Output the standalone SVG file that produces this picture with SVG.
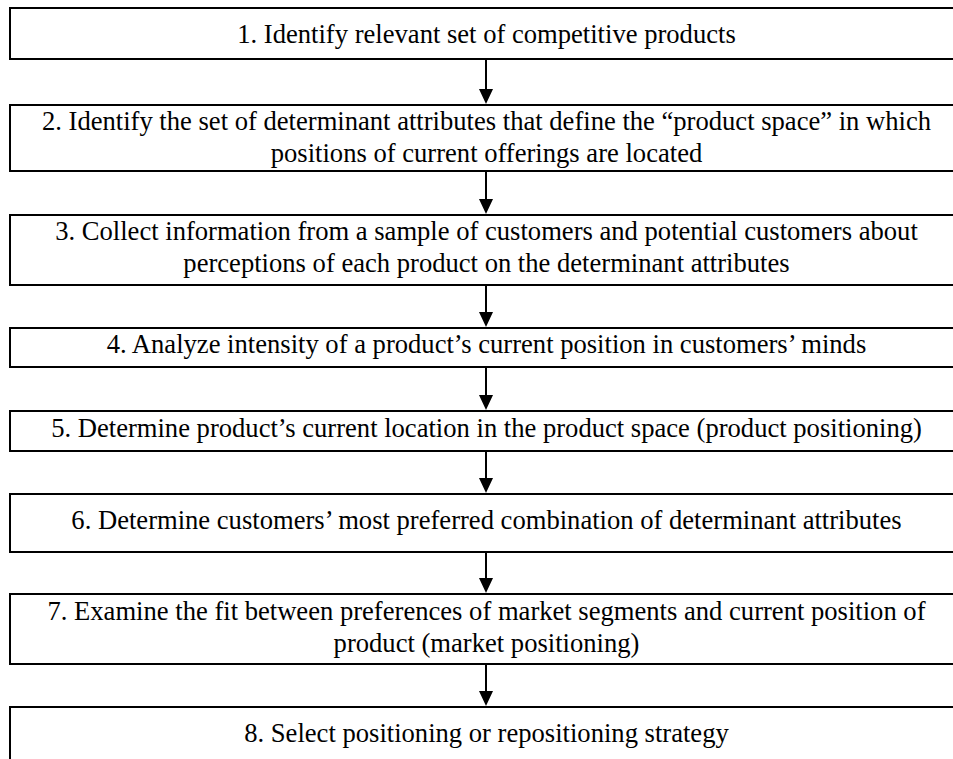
<svg xmlns="http://www.w3.org/2000/svg" xmlns:xlink="http://www.w3.org/1999/xlink" width="953" height="759" viewBox="0 0 953 759">
<style>
.box{fill:#fff;stroke:#000;stroke-width:2}
.t{font-family:"Liberation Serif","Times New Roman",serif;font-size:26.6px;fill:#000;text-anchor:middle}
.c{stroke:#000;stroke-width:2;fill:none}
.h{fill:#000}
</style>
<defs>
<path id="ah" class="h" d="M-7,-15 L7,-15 L0,0 Z"/>
</defs>
<rect width="953" height="759" fill="#fff"/>
<g id="connectors">
<line class="c" x1="486" y1="59" x2="486" y2="92"/><use xlink:href="#ah" x="486" y="104"/>
<line class="c" x1="486" y1="171" x2="486" y2="202"/><use xlink:href="#ah" x="486" y="214"/>
<line class="c" x1="486" y1="285" x2="486" y2="315"/><use xlink:href="#ah" x="486" y="327"/>
<line class="c" x1="486" y1="367" x2="486" y2="398"/><use xlink:href="#ah" x="486" y="410"/>
<line class="c" x1="486" y1="451" x2="486" y2="481"/><use xlink:href="#ah" x="486" y="493"/>
<line class="c" x1="486" y1="552" x2="486" y2="581"/><use xlink:href="#ah" x="486" y="593"/>
<line class="c" x1="486" y1="664" x2="486" y2="694"/><use xlink:href="#ah" x="486" y="706"/>
</g>
<g id="step1"><rect class="box" x="10" y="8" width="955" height="51"/><text class="t" x="486.5" y="43">1. Identify relevant set of competitive products</text></g>
<g id="step2"><rect class="box" x="10" y="105" width="955" height="66"/><text class="t" x="486.5" y="130">2. Identify the set of determinant attributes that define the “product space” in which</text><text class="t" x="486.5" y="162">positions of current offerings are located</text></g>
<g id="step3"><rect class="box" x="10" y="215" width="955" height="70"/><text class="t" x="486.5" y="240">3. Collect information from a sample of customers and potential customers about</text><text class="t" x="486.5" y="272">perceptions of each product on the determinant attributes</text></g>
<g id="step4"><rect class="box" x="10" y="328" width="955" height="39"/><text class="t" x="486.5" y="353">4. Analyze intensity of a product’s current position in customers’ minds</text></g>
<g id="step5"><rect class="box" x="10" y="411" width="955" height="40"/><text class="t" x="486.5" y="437">5. Determine product’s current location in the product space (product positioning)</text></g>
<g id="step6"><rect class="box" x="10" y="494" width="955" height="58"/><text class="t" x="486.5" y="529">6. Determine customers’ most preferred combination of determinant attributes</text></g>
<g id="step7"><rect class="box" x="10" y="594" width="955" height="70"/><text class="t" x="486.5" y="620">7. Examine the fit between preferences of market segments and current position of</text><text class="t" x="486.5" y="652">product (market positioning)</text></g>
<g id="step8"><rect class="box" x="10" y="707" width="955" height="70"/><text class="t" x="486.5" y="742">8. Select positioning or repositioning strategy</text></g>
</svg>
